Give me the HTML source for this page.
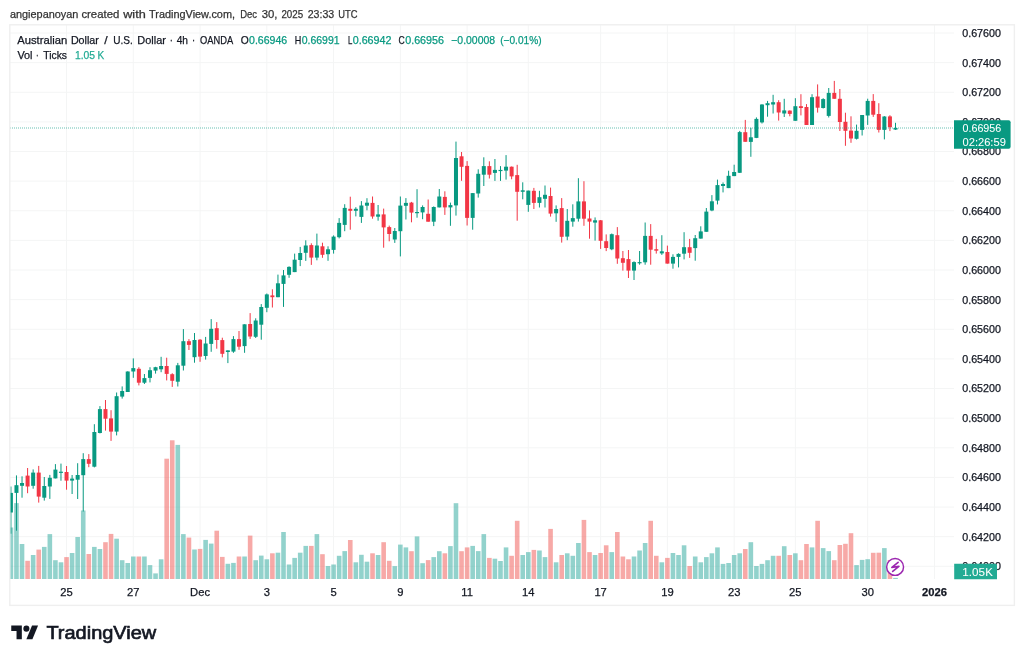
<!DOCTYPE html><html><head><meta charset="utf-8"><title>AUDUSD chart</title><style>
html,body{margin:0;padding:0;background:#fff;width:1024px;height:661px;overflow:hidden}
svg{position:absolute;left:0;top:0}
text{font-family:"Liberation Sans", Arial, sans-serif}
</style></head><body>
<div style="position:absolute;left:0;top:0;width:1024px;height:661px;will-change:transform">
<svg width="1024" height="661" viewBox="0 0 1024 661">
<rect x="0" y="0" width="1024" height="661" fill="#fff"/>
<defs><clipPath id="pane"><rect x="10" y="25" width="944" height="554"/></clipPath></defs>
<g stroke="#f4f5f5" stroke-width="1"><line x1="10" y1="33.00" x2="954" y2="33.00"/><line x1="10" y1="62.63" x2="954" y2="62.63"/><line x1="10" y1="92.26" x2="954" y2="92.26"/><line x1="10" y1="121.88" x2="954" y2="121.88"/><line x1="10" y1="151.51" x2="954" y2="151.51"/><line x1="10" y1="181.14" x2="954" y2="181.14"/><line x1="10" y1="210.77" x2="954" y2="210.77"/><line x1="10" y1="240.40" x2="954" y2="240.40"/><line x1="10" y1="270.02" x2="954" y2="270.02"/><line x1="10" y1="299.65" x2="954" y2="299.65"/><line x1="10" y1="329.28" x2="954" y2="329.28"/><line x1="10" y1="358.91" x2="954" y2="358.91"/><line x1="10" y1="388.54" x2="954" y2="388.54"/><line x1="10" y1="418.16" x2="954" y2="418.16"/><line x1="10" y1="447.79" x2="954" y2="447.79"/><line x1="10" y1="477.42" x2="954" y2="477.42"/><line x1="10" y1="507.05" x2="954" y2="507.05"/><line x1="10" y1="536.68" x2="954" y2="536.68"/><line x1="10" y1="566.30" x2="954" y2="566.30"/><line x1="66.54" y1="25" x2="66.54" y2="579"/><line x1="133.30" y1="25" x2="133.30" y2="579"/><line x1="200.06" y1="25" x2="200.06" y2="579"/><line x1="266.82" y1="25" x2="266.82" y2="579"/><line x1="333.58" y1="25" x2="333.58" y2="579"/><line x1="400.35" y1="25" x2="400.35" y2="579"/><line x1="467.11" y1="25" x2="467.11" y2="579"/><line x1="528.31" y1="25" x2="528.31" y2="579"/><line x1="600.63" y1="25" x2="600.63" y2="579"/><line x1="667.39" y1="25" x2="667.39" y2="579"/><line x1="734.15" y1="25" x2="734.15" y2="579"/><line x1="795.35" y1="25" x2="795.35" y2="579"/><line x1="867.68" y1="25" x2="867.68" y2="579"/><line x1="934.44" y1="25" x2="934.44" y2="579"/></g>
<g clip-path="url(#pane)"><rect x="8.60" y="527.50" width="4.6" height="51.80" fill="rgba(38,166,154,0.5)"/><rect x="14.16" y="503.10" width="4.6" height="76.20" fill="rgba(38,166,154,0.5)"/><rect x="19.73" y="544.00" width="4.6" height="35.30" fill="rgba(38,166,154,0.5)"/><rect x="25.29" y="560.80" width="4.6" height="18.50" fill="rgba(239,83,80,0.5)"/><rect x="30.85" y="555.00" width="4.6" height="24.30" fill="rgba(38,166,154,0.5)"/><rect x="36.42" y="549.60" width="4.6" height="29.70" fill="rgba(239,83,80,0.5)"/><rect x="41.98" y="546.90" width="4.6" height="32.40" fill="rgba(38,166,154,0.5)"/><rect x="47.54" y="534.10" width="4.6" height="45.20" fill="rgba(38,166,154,0.5)"/><rect x="53.11" y="560.20" width="4.6" height="19.10" fill="rgba(38,166,154,0.5)"/><rect x="58.67" y="562.30" width="4.6" height="17.00" fill="rgba(38,166,154,0.5)"/><rect x="64.24" y="557.10" width="4.6" height="22.20" fill="rgba(239,83,80,0.5)"/><rect x="69.80" y="553.00" width="4.6" height="26.30" fill="rgba(38,166,154,0.5)"/><rect x="75.36" y="537.00" width="4.6" height="42.30" fill="rgba(38,166,154,0.5)"/><rect x="80.93" y="510.50" width="4.6" height="68.80" fill="rgba(38,166,154,0.5)"/><rect x="86.49" y="554.00" width="4.6" height="25.30" fill="rgba(239,83,80,0.5)"/><rect x="92.05" y="546.90" width="4.6" height="32.40" fill="rgba(38,166,154,0.5)"/><rect x="97.62" y="549.00" width="4.6" height="30.30" fill="rgba(38,166,154,0.5)"/><rect x="103.18" y="542.20" width="4.6" height="37.10" fill="rgba(239,83,80,0.5)"/><rect x="108.74" y="533.90" width="4.6" height="45.40" fill="rgba(239,83,80,0.5)"/><rect x="114.31" y="538.70" width="4.6" height="40.60" fill="rgba(38,166,154,0.5)"/><rect x="119.87" y="560.20" width="4.6" height="19.10" fill="rgba(38,166,154,0.5)"/><rect x="125.43" y="563.00" width="4.6" height="16.30" fill="rgba(38,166,154,0.5)"/><rect x="131.00" y="556.50" width="4.6" height="22.80" fill="rgba(38,166,154,0.5)"/><rect x="136.56" y="556.50" width="4.6" height="22.80" fill="rgba(239,83,80,0.5)"/><rect x="142.12" y="556.50" width="4.6" height="22.80" fill="rgba(38,166,154,0.5)"/><rect x="147.69" y="565.10" width="4.6" height="14.20" fill="rgba(38,166,154,0.5)"/><rect x="153.25" y="573.40" width="4.6" height="5.90" fill="rgba(38,166,154,0.5)"/><rect x="158.81" y="559.30" width="4.6" height="20.00" fill="rgba(38,166,154,0.5)"/><rect x="164.38" y="458.70" width="4.6" height="120.60" fill="rgba(239,83,80,0.5)"/><rect x="169.94" y="440.30" width="4.6" height="139.00" fill="rgba(239,83,80,0.5)"/><rect x="175.50" y="444.90" width="4.6" height="134.40" fill="rgba(38,166,154,0.5)"/><rect x="181.07" y="534.10" width="4.6" height="45.20" fill="rgba(38,166,154,0.5)"/><rect x="186.63" y="537.60" width="4.6" height="41.70" fill="rgba(239,83,80,0.5)"/><rect x="192.20" y="549.50" width="4.6" height="29.80" fill="rgba(38,166,154,0.5)"/><rect x="197.76" y="548.90" width="4.6" height="30.40" fill="rgba(239,83,80,0.5)"/><rect x="203.32" y="539.90" width="4.6" height="39.40" fill="rgba(38,166,154,0.5)"/><rect x="208.89" y="543.60" width="4.6" height="35.70" fill="rgba(38,166,154,0.5)"/><rect x="214.45" y="530.70" width="4.6" height="48.60" fill="rgba(239,83,80,0.5)"/><rect x="220.01" y="556.90" width="4.6" height="22.40" fill="rgba(239,83,80,0.5)"/><rect x="225.58" y="563.80" width="4.6" height="15.50" fill="rgba(38,166,154,0.5)"/><rect x="231.14" y="562.90" width="4.6" height="16.40" fill="rgba(38,166,154,0.5)"/><rect x="236.70" y="556.50" width="4.6" height="22.80" fill="rgba(239,83,80,0.5)"/><rect x="242.27" y="556.50" width="4.6" height="22.80" fill="rgba(38,166,154,0.5)"/><rect x="247.83" y="535.60" width="4.6" height="43.70" fill="rgba(239,83,80,0.5)"/><rect x="253.39" y="560.20" width="4.6" height="19.10" fill="rgba(38,166,154,0.5)"/><rect x="258.96" y="555.60" width="4.6" height="23.70" fill="rgba(38,166,154,0.5)"/><rect x="264.52" y="559.30" width="4.6" height="20.00" fill="rgba(38,166,154,0.5)"/><rect x="270.08" y="553.30" width="4.6" height="26.00" fill="rgba(239,83,80,0.5)"/><rect x="275.65" y="552.70" width="4.6" height="26.60" fill="rgba(38,166,154,0.5)"/><rect x="281.21" y="532.00" width="4.6" height="47.30" fill="rgba(38,166,154,0.5)"/><rect x="286.77" y="564.50" width="4.6" height="14.80" fill="rgba(38,166,154,0.5)"/><rect x="292.34" y="557.90" width="4.6" height="21.40" fill="rgba(38,166,154,0.5)"/><rect x="297.90" y="552.70" width="4.6" height="26.60" fill="rgba(38,166,154,0.5)"/><rect x="303.47" y="545.90" width="4.6" height="33.40" fill="rgba(38,166,154,0.5)"/><rect x="309.03" y="545.90" width="4.6" height="33.40" fill="rgba(239,83,80,0.5)"/><rect x="314.59" y="534.10" width="4.6" height="45.20" fill="rgba(38,166,154,0.5)"/><rect x="320.16" y="554.20" width="4.6" height="25.10" fill="rgba(239,83,80,0.5)"/><rect x="325.72" y="566.00" width="4.6" height="13.30" fill="rgba(38,166,154,0.5)"/><rect x="331.28" y="564.50" width="4.6" height="14.80" fill="rgba(38,166,154,0.5)"/><rect x="336.85" y="555.80" width="4.6" height="23.50" fill="rgba(38,166,154,0.5)"/><rect x="342.41" y="551.10" width="4.6" height="28.20" fill="rgba(38,166,154,0.5)"/><rect x="347.97" y="540.00" width="4.6" height="39.30" fill="rgba(239,83,80,0.5)"/><rect x="353.54" y="562.30" width="4.6" height="17.00" fill="rgba(38,166,154,0.5)"/><rect x="359.10" y="554.80" width="4.6" height="24.50" fill="rgba(38,166,154,0.5)"/><rect x="364.66" y="561.70" width="4.6" height="17.60" fill="rgba(38,166,154,0.5)"/><rect x="370.23" y="553.30" width="4.6" height="26.00" fill="rgba(239,83,80,0.5)"/><rect x="375.79" y="555.00" width="4.6" height="24.30" fill="rgba(38,166,154,0.5)"/><rect x="381.35" y="542.20" width="4.6" height="37.10" fill="rgba(239,83,80,0.5)"/><rect x="386.92" y="560.80" width="4.6" height="18.50" fill="rgba(239,83,80,0.5)"/><rect x="392.48" y="566.10" width="4.6" height="13.20" fill="rgba(38,166,154,0.5)"/><rect x="398.05" y="544.60" width="4.6" height="34.70" fill="rgba(38,166,154,0.5)"/><rect x="403.61" y="547.40" width="4.6" height="31.90" fill="rgba(38,166,154,0.5)"/><rect x="409.17" y="551.20" width="4.6" height="28.10" fill="rgba(239,83,80,0.5)"/><rect x="414.74" y="536.40" width="4.6" height="42.90" fill="rgba(38,166,154,0.5)"/><rect x="420.30" y="563.20" width="4.6" height="16.10" fill="rgba(38,166,154,0.5)"/><rect x="425.86" y="560.10" width="4.6" height="19.20" fill="rgba(239,83,80,0.5)"/><rect x="431.43" y="557.10" width="4.6" height="22.20" fill="rgba(38,166,154,0.5)"/><rect x="436.99" y="551.20" width="4.6" height="28.10" fill="rgba(38,166,154,0.5)"/><rect x="442.55" y="553.30" width="4.6" height="26.00" fill="rgba(239,83,80,0.5)"/><rect x="448.12" y="546.10" width="4.6" height="33.20" fill="rgba(38,166,154,0.5)"/><rect x="453.68" y="503.20" width="4.6" height="76.10" fill="rgba(38,166,154,0.5)"/><rect x="459.24" y="551.20" width="4.6" height="28.10" fill="rgba(239,83,80,0.5)"/><rect x="464.81" y="547.40" width="4.6" height="31.90" fill="rgba(239,83,80,0.5)"/><rect x="470.37" y="545.90" width="4.6" height="33.40" fill="rgba(38,166,154,0.5)"/><rect x="475.93" y="551.10" width="4.6" height="28.20" fill="rgba(38,166,154,0.5)"/><rect x="481.50" y="534.10" width="4.6" height="45.20" fill="rgba(38,166,154,0.5)"/><rect x="487.06" y="557.90" width="4.6" height="21.40" fill="rgba(239,83,80,0.5)"/><rect x="492.62" y="558.70" width="4.6" height="20.60" fill="rgba(38,166,154,0.5)"/><rect x="498.19" y="561.00" width="4.6" height="18.30" fill="rgba(38,166,154,0.5)"/><rect x="503.75" y="547.40" width="4.6" height="31.90" fill="rgba(38,166,154,0.5)"/><rect x="509.31" y="555.80" width="4.6" height="23.50" fill="rgba(239,83,80,0.5)"/><rect x="514.88" y="520.80" width="4.6" height="58.50" fill="rgba(239,83,80,0.5)"/><rect x="520.44" y="555.00" width="4.6" height="24.30" fill="rgba(38,166,154,0.5)"/><rect x="526.01" y="552.10" width="4.6" height="27.20" fill="rgba(38,166,154,0.5)"/><rect x="531.57" y="549.90" width="4.6" height="29.40" fill="rgba(239,83,80,0.5)"/><rect x="537.13" y="550.50" width="4.6" height="28.80" fill="rgba(38,166,154,0.5)"/><rect x="542.70" y="557.10" width="4.6" height="22.20" fill="rgba(38,166,154,0.5)"/><rect x="548.26" y="528.90" width="4.6" height="50.40" fill="rgba(239,83,80,0.5)"/><rect x="553.82" y="562.30" width="4.6" height="17.00" fill="rgba(38,166,154,0.5)"/><rect x="559.39" y="555.00" width="4.6" height="24.30" fill="rgba(239,83,80,0.5)"/><rect x="564.95" y="553.30" width="4.6" height="26.00" fill="rgba(38,166,154,0.5)"/><rect x="570.51" y="555.80" width="4.6" height="23.50" fill="rgba(38,166,154,0.5)"/><rect x="576.08" y="543.00" width="4.6" height="36.30" fill="rgba(38,166,154,0.5)"/><rect x="581.64" y="519.90" width="4.6" height="59.40" fill="rgba(239,83,80,0.5)"/><rect x="587.20" y="552.10" width="4.6" height="27.20" fill="rgba(239,83,80,0.5)"/><rect x="592.77" y="555.00" width="4.6" height="24.30" fill="rgba(38,166,154,0.5)"/><rect x="598.33" y="553.00" width="4.6" height="26.30" fill="rgba(239,83,80,0.5)"/><rect x="603.89" y="545.30" width="4.6" height="34.00" fill="rgba(239,83,80,0.5)"/><rect x="609.46" y="552.10" width="4.6" height="27.20" fill="rgba(38,166,154,0.5)"/><rect x="615.02" y="532.00" width="4.6" height="47.30" fill="rgba(239,83,80,0.5)"/><rect x="620.59" y="556.50" width="4.6" height="22.80" fill="rgba(239,83,80,0.5)"/><rect x="626.15" y="559.30" width="4.6" height="20.00" fill="rgba(239,83,80,0.5)"/><rect x="631.71" y="556.50" width="4.6" height="22.80" fill="rgba(38,166,154,0.5)"/><rect x="637.28" y="550.50" width="4.6" height="28.80" fill="rgba(38,166,154,0.5)"/><rect x="642.84" y="543.00" width="4.6" height="36.30" fill="rgba(38,166,154,0.5)"/><rect x="648.40" y="520.80" width="4.6" height="58.50" fill="rgba(239,83,80,0.5)"/><rect x="653.97" y="555.80" width="4.6" height="23.50" fill="rgba(239,83,80,0.5)"/><rect x="659.53" y="562.30" width="4.6" height="17.00" fill="rgba(38,166,154,0.5)"/><rect x="665.09" y="557.90" width="4.6" height="21.40" fill="rgba(239,83,80,0.5)"/><rect x="670.66" y="553.00" width="4.6" height="26.30" fill="rgba(38,166,154,0.5)"/><rect x="676.22" y="555.00" width="4.6" height="24.30" fill="rgba(38,166,154,0.5)"/><rect x="681.78" y="545.30" width="4.6" height="34.00" fill="rgba(38,166,154,0.5)"/><rect x="687.35" y="566.00" width="4.6" height="13.30" fill="rgba(239,83,80,0.5)"/><rect x="692.91" y="556.50" width="4.6" height="22.80" fill="rgba(38,166,154,0.5)"/><rect x="698.47" y="562.30" width="4.6" height="17.00" fill="rgba(38,166,154,0.5)"/><rect x="704.04" y="557.10" width="4.6" height="22.20" fill="rgba(38,166,154,0.5)"/><rect x="709.60" y="553.30" width="4.6" height="26.00" fill="rgba(38,166,154,0.5)"/><rect x="715.16" y="547.40" width="4.6" height="31.90" fill="rgba(38,166,154,0.5)"/><rect x="720.73" y="563.90" width="4.6" height="15.40" fill="rgba(38,166,154,0.5)"/><rect x="726.29" y="563.00" width="4.6" height="16.30" fill="rgba(38,166,154,0.5)"/><rect x="731.86" y="555.00" width="4.6" height="24.30" fill="rgba(38,166,154,0.5)"/><rect x="737.42" y="553.30" width="4.6" height="26.00" fill="rgba(38,166,154,0.5)"/><rect x="742.98" y="549.00" width="4.6" height="30.30" fill="rgba(239,83,80,0.5)"/><rect x="748.55" y="542.20" width="4.6" height="37.10" fill="rgba(38,166,154,0.5)"/><rect x="754.11" y="566.00" width="4.6" height="13.30" fill="rgba(38,166,154,0.5)"/><rect x="759.67" y="563.90" width="4.6" height="15.40" fill="rgba(38,166,154,0.5)"/><rect x="765.24" y="560.20" width="4.6" height="19.10" fill="rgba(38,166,154,0.5)"/><rect x="770.80" y="555.80" width="4.6" height="23.50" fill="rgba(38,166,154,0.5)"/><rect x="776.36" y="555.80" width="4.6" height="23.50" fill="rgba(239,83,80,0.5)"/><rect x="781.93" y="546.20" width="4.6" height="33.10" fill="rgba(38,166,154,0.5)"/><rect x="787.49" y="555.00" width="4.6" height="24.30" fill="rgba(239,83,80,0.5)"/><rect x="793.05" y="553.30" width="4.6" height="26.00" fill="rgba(38,166,154,0.5)"/><rect x="798.62" y="560.20" width="4.6" height="19.10" fill="rgba(239,83,80,0.5)"/><rect x="804.18" y="544.00" width="4.6" height="35.30" fill="rgba(239,83,80,0.5)"/><rect x="809.74" y="547.40" width="4.6" height="31.90" fill="rgba(38,166,154,0.5)"/><rect x="815.31" y="520.80" width="4.6" height="58.50" fill="rgba(239,83,80,0.5)"/><rect x="820.87" y="548.10" width="4.6" height="31.20" fill="rgba(38,166,154,0.5)"/><rect x="826.43" y="551.10" width="4.6" height="28.20" fill="rgba(38,166,154,0.5)"/><rect x="832.00" y="560.20" width="4.6" height="19.10" fill="rgba(239,83,80,0.5)"/><rect x="837.56" y="545.00" width="4.6" height="34.30" fill="rgba(239,83,80,0.5)"/><rect x="843.13" y="543.80" width="4.6" height="35.50" fill="rgba(239,83,80,0.5)"/><rect x="848.69" y="533.20" width="4.6" height="46.10" fill="rgba(239,83,80,0.5)"/><rect x="854.25" y="565.10" width="4.6" height="14.20" fill="rgba(38,166,154,0.5)"/><rect x="859.82" y="559.90" width="4.6" height="19.40" fill="rgba(38,166,154,0.5)"/><rect x="865.38" y="559.20" width="4.6" height="20.10" fill="rgba(38,166,154,0.5)"/><rect x="870.94" y="552.80" width="4.6" height="26.50" fill="rgba(239,83,80,0.5)"/><rect x="876.51" y="552.70" width="4.6" height="26.60" fill="rgba(239,83,80,0.5)"/><rect x="882.07" y="548.10" width="4.6" height="31.20" fill="rgba(38,166,154,0.5)"/><rect x="887.63" y="560.00" width="4.6" height="19.30" fill="rgba(239,83,80,0.5)"/><rect x="893.20" y="577.90" width="4.6" height="1.40" fill="rgba(38,166,154,0.5)"/></g>
<g clip-path="url(#pane)"><rect x="10.40" y="486.50" width="1" height="47.20" fill="#089981"/><rect x="8.90" y="492.90" width="4" height="19.60" fill="#089981"/><rect x="15.96" y="475.40" width="1" height="55.30" fill="#089981"/><rect x="14.46" y="485.20" width="4" height="7.70" fill="#089981"/><rect x="21.53" y="476.30" width="1" height="21.40" fill="#089981"/><rect x="20.03" y="483.00" width="4" height="2.80" fill="#089981"/><rect x="27.09" y="468.00" width="1" height="25.20" fill="#f23645"/><rect x="25.59" y="475.60" width="4" height="10.90" fill="#f23645"/><rect x="32.65" y="469.40" width="1" height="19.30" fill="#089981"/><rect x="31.15" y="472.60" width="4" height="13.20" fill="#089981"/><rect x="38.22" y="465.90" width="1" height="36.70" fill="#f23645"/><rect x="36.72" y="472.60" width="4" height="24.00" fill="#f23645"/><rect x="43.78" y="477.00" width="1" height="23.60" fill="#089981"/><rect x="42.28" y="486.00" width="4" height="11.70" fill="#089981"/><rect x="49.34" y="474.90" width="1" height="24.00" fill="#089981"/><rect x="47.84" y="477.80" width="4" height="8.70" fill="#089981"/><rect x="54.91" y="464.10" width="1" height="14.30" fill="#089981"/><rect x="53.41" y="469.60" width="4" height="8.80" fill="#089981"/><rect x="60.47" y="463.60" width="1" height="17.10" fill="#089981"/><rect x="58.97" y="471.70" width="4" height="1.20" fill="#089981"/><rect x="66.04" y="466.00" width="1" height="23.70" fill="#f23645"/><rect x="64.54" y="472.00" width="4" height="8.60" fill="#f23645"/><rect x="71.60" y="475.00" width="1" height="19.00" fill="#089981"/><rect x="70.10" y="478.60" width="4" height="2.00" fill="#089981"/><rect x="77.16" y="463.20" width="1" height="35.80" fill="#089981"/><rect x="75.66" y="475.00" width="4" height="4.70" fill="#089981"/><rect x="82.73" y="453.20" width="1" height="58.30" fill="#089981"/><rect x="81.23" y="459.10" width="4" height="16.10" fill="#089981"/><rect x="88.29" y="454.10" width="1" height="13.10" fill="#f23645"/><rect x="86.79" y="459.10" width="4" height="4.70" fill="#f23645"/><rect x="93.85" y="424.20" width="1" height="43.20" fill="#089981"/><rect x="92.35" y="432.00" width="4" height="34.70" fill="#089981"/><rect x="99.42" y="406.10" width="1" height="27.30" fill="#089981"/><rect x="97.92" y="409.10" width="4" height="23.90" fill="#089981"/><rect x="104.98" y="400.00" width="1" height="30.60" fill="#f23645"/><rect x="103.48" y="409.10" width="4" height="9.60" fill="#f23645"/><rect x="110.54" y="410.20" width="1" height="30.70" fill="#f23645"/><rect x="109.04" y="418.40" width="4" height="13.20" fill="#f23645"/><rect x="116.11" y="392.50" width="1" height="42.90" fill="#089981"/><rect x="114.61" y="396.20" width="4" height="35.40" fill="#089981"/><rect x="121.67" y="386.40" width="1" height="12.20" fill="#089981"/><rect x="120.17" y="391.00" width="4" height="5.60" fill="#089981"/><rect x="127.23" y="371.30" width="1" height="20.70" fill="#089981"/><rect x="125.73" y="371.50" width="4" height="20.50" fill="#089981"/><rect x="132.80" y="358.40" width="1" height="19.40" fill="#089981"/><rect x="131.30" y="368.10" width="4" height="3.40" fill="#089981"/><rect x="138.36" y="367.20" width="1" height="18.20" fill="#f23645"/><rect x="136.86" y="368.80" width="4" height="13.90" fill="#f23645"/><rect x="143.92" y="374.00" width="1" height="10.00" fill="#089981"/><rect x="142.42" y="378.10" width="4" height="4.60" fill="#089981"/><rect x="149.49" y="367.20" width="1" height="15.20" fill="#089981"/><rect x="147.99" y="370.20" width="4" height="7.70" fill="#089981"/><rect x="155.05" y="366.80" width="1" height="6.80" fill="#089981"/><rect x="153.55" y="367.20" width="4" height="3.40" fill="#089981"/><rect x="160.61" y="356.80" width="1" height="15.40" fill="#089981"/><rect x="159.11" y="366.00" width="4" height="3.30" fill="#089981"/><rect x="166.18" y="357.70" width="1" height="22.70" fill="#f23645"/><rect x="164.68" y="366.00" width="4" height="7.90" fill="#f23645"/><rect x="171.74" y="373.20" width="1" height="13.70" fill="#f23645"/><rect x="170.24" y="374.20" width="4" height="6.60" fill="#f23645"/><rect x="177.31" y="362.90" width="1" height="23.60" fill="#089981"/><rect x="175.81" y="365.30" width="4" height="16.40" fill="#089981"/><rect x="182.87" y="329.10" width="1" height="41.40" fill="#089981"/><rect x="181.37" y="341.20" width="4" height="24.50" fill="#089981"/><rect x="188.43" y="339.10" width="1" height="10.90" fill="#f23645"/><rect x="186.93" y="341.20" width="4" height="3.70" fill="#f23645"/><rect x="194.00" y="333.00" width="1" height="29.70" fill="#089981"/><rect x="192.50" y="340.00" width="4" height="17.20" fill="#089981"/><rect x="199.56" y="339.10" width="1" height="22.70" fill="#f23645"/><rect x="198.06" y="339.70" width="4" height="16.90" fill="#f23645"/><rect x="205.12" y="336.90" width="1" height="22.70" fill="#089981"/><rect x="203.62" y="343.50" width="4" height="12.50" fill="#089981"/><rect x="210.69" y="319.10" width="1" height="32.70" fill="#089981"/><rect x="209.19" y="328.80" width="4" height="15.10" fill="#089981"/><rect x="216.25" y="322.10" width="1" height="26.60" fill="#f23645"/><rect x="214.75" y="328.20" width="4" height="11.80" fill="#f23645"/><rect x="221.81" y="337.70" width="1" height="19.70" fill="#f23645"/><rect x="220.31" y="340.10" width="4" height="13.70" fill="#f23645"/><rect x="227.38" y="350.40" width="1" height="12.70" fill="#089981"/><rect x="225.88" y="350.40" width="4" height="1.60" fill="#089981"/><rect x="232.94" y="336.10" width="1" height="16.70" fill="#089981"/><rect x="231.44" y="339.10" width="4" height="12.50" fill="#089981"/><rect x="238.50" y="331.00" width="1" height="18.80" fill="#f23645"/><rect x="237.00" y="339.10" width="4" height="7.60" fill="#f23645"/><rect x="244.07" y="324.30" width="1" height="28.50" fill="#089981"/><rect x="242.57" y="324.30" width="4" height="21.80" fill="#089981"/><rect x="249.63" y="313.10" width="1" height="25.80" fill="#f23645"/><rect x="248.13" y="324.00" width="4" height="12.50" fill="#f23645"/><rect x="255.19" y="318.30" width="1" height="19.70" fill="#089981"/><rect x="253.69" y="320.50" width="4" height="16.30" fill="#089981"/><rect x="260.76" y="304.10" width="1" height="35.60" fill="#089981"/><rect x="259.26" y="307.00" width="4" height="17.70" fill="#089981"/><rect x="266.32" y="293.50" width="1" height="18.70" fill="#089981"/><rect x="264.82" y="294.40" width="4" height="13.40" fill="#089981"/><rect x="271.88" y="289.30" width="1" height="18.20" fill="#f23645"/><rect x="270.38" y="295.40" width="4" height="1.80" fill="#f23645"/><rect x="277.45" y="274.60" width="1" height="22.60" fill="#089981"/><rect x="275.95" y="283.30" width="4" height="13.90" fill="#089981"/><rect x="283.01" y="270.00" width="1" height="36.90" fill="#089981"/><rect x="281.51" y="275.40" width="4" height="8.50" fill="#089981"/><rect x="288.57" y="266.30" width="1" height="11.50" fill="#089981"/><rect x="287.07" y="266.90" width="4" height="7.90" fill="#089981"/><rect x="294.14" y="253.60" width="1" height="18.50" fill="#089981"/><rect x="292.64" y="259.70" width="4" height="12.40" fill="#089981"/><rect x="299.70" y="246.90" width="1" height="19.20" fill="#089981"/><rect x="298.20" y="253.00" width="4" height="7.00" fill="#089981"/><rect x="305.27" y="240.30" width="1" height="20.60" fill="#089981"/><rect x="303.77" y="245.50" width="4" height="7.30" fill="#089981"/><rect x="310.83" y="243.30" width="1" height="21.60" fill="#f23645"/><rect x="309.33" y="245.10" width="4" height="12.50" fill="#f23645"/><rect x="316.39" y="233.60" width="1" height="26.70" fill="#089981"/><rect x="314.89" y="245.50" width="4" height="12.10" fill="#089981"/><rect x="321.96" y="242.70" width="1" height="15.10" fill="#f23645"/><rect x="320.46" y="246.30" width="4" height="8.50" fill="#f23645"/><rect x="327.52" y="246.30" width="1" height="14.50" fill="#089981"/><rect x="326.02" y="249.30" width="4" height="4.90" fill="#089981"/><rect x="333.08" y="235.40" width="1" height="18.20" fill="#089981"/><rect x="331.58" y="236.60" width="4" height="13.30" fill="#089981"/><rect x="338.65" y="218.10" width="1" height="20.30" fill="#089981"/><rect x="337.15" y="222.90" width="4" height="14.30" fill="#089981"/><rect x="344.21" y="204.20" width="1" height="27.00" fill="#089981"/><rect x="342.71" y="207.90" width="4" height="17.00" fill="#089981"/><rect x="349.77" y="196.70" width="1" height="33.00" fill="#f23645"/><rect x="348.27" y="208.80" width="4" height="2.00" fill="#f23645"/><rect x="355.34" y="207.20" width="1" height="9.20" fill="#089981"/><rect x="353.84" y="208.80" width="4" height="2.00" fill="#089981"/><rect x="360.90" y="201.10" width="1" height="21.80" fill="#089981"/><rect x="359.40" y="205.50" width="4" height="11.40" fill="#089981"/><rect x="366.46" y="198.20" width="1" height="12.10" fill="#089981"/><rect x="364.96" y="202.70" width="4" height="3.00" fill="#089981"/><rect x="372.03" y="196.50" width="1" height="22.20" fill="#f23645"/><rect x="370.53" y="202.90" width="4" height="13.60" fill="#f23645"/><rect x="377.59" y="205.00" width="1" height="15.70" fill="#089981"/><rect x="376.09" y="214.40" width="4" height="2.30" fill="#089981"/><rect x="383.15" y="208.60" width="1" height="39.10" fill="#f23645"/><rect x="381.65" y="214.40" width="4" height="13.00" fill="#f23645"/><rect x="388.72" y="225.60" width="1" height="15.70" fill="#f23645"/><rect x="387.22" y="227.10" width="4" height="6.90" fill="#f23645"/><rect x="394.28" y="228.00" width="1" height="14.90" fill="#089981"/><rect x="392.78" y="231.00" width="4" height="8.50" fill="#089981"/><rect x="399.85" y="196.50" width="1" height="59.90" fill="#089981"/><rect x="398.35" y="205.60" width="4" height="25.60" fill="#089981"/><rect x="405.41" y="198.10" width="1" height="21.40" fill="#089981"/><rect x="403.91" y="202.90" width="4" height="2.90" fill="#089981"/><rect x="410.97" y="201.90" width="1" height="20.40" fill="#f23645"/><rect x="409.47" y="202.60" width="4" height="10.00" fill="#f23645"/><rect x="416.54" y="189.20" width="1" height="28.50" fill="#089981"/><rect x="415.04" y="212.00" width="4" height="1.20" fill="#089981"/><rect x="422.10" y="205.40" width="1" height="13.80" fill="#089981"/><rect x="420.60" y="207.00" width="4" height="5.40" fill="#089981"/><rect x="427.66" y="199.50" width="1" height="22.20" fill="#f23645"/><rect x="426.16" y="213.80" width="4" height="7.90" fill="#f23645"/><rect x="433.23" y="206.40" width="1" height="19.70" fill="#089981"/><rect x="431.73" y="207.00" width="4" height="14.70" fill="#089981"/><rect x="438.79" y="189.00" width="1" height="18.40" fill="#089981"/><rect x="437.29" y="196.50" width="4" height="10.90" fill="#089981"/><rect x="444.35" y="191.30" width="1" height="23.60" fill="#f23645"/><rect x="442.85" y="196.90" width="4" height="10.50" fill="#f23645"/><rect x="449.92" y="202.60" width="1" height="23.20" fill="#089981"/><rect x="448.42" y="205.10" width="4" height="2.30" fill="#089981"/><rect x="455.48" y="141.60" width="1" height="74.00" fill="#089981"/><rect x="453.98" y="158.00" width="4" height="47.40" fill="#089981"/><rect x="461.04" y="152.00" width="1" height="28.80" fill="#f23645"/><rect x="459.54" y="156.30" width="4" height="10.50" fill="#f23645"/><rect x="466.61" y="161.10" width="1" height="64.40" fill="#f23645"/><rect x="465.11" y="165.90" width="4" height="52.00" fill="#f23645"/><rect x="472.17" y="193.10" width="1" height="36.60" fill="#089981"/><rect x="470.67" y="193.10" width="4" height="24.80" fill="#089981"/><rect x="477.73" y="169.30" width="1" height="28.30" fill="#089981"/><rect x="476.23" y="173.80" width="4" height="19.70" fill="#089981"/><rect x="483.30" y="157.30" width="1" height="28.70" fill="#089981"/><rect x="481.80" y="166.10" width="4" height="8.60" fill="#089981"/><rect x="488.86" y="161.30" width="1" height="17.20" fill="#f23645"/><rect x="487.36" y="166.10" width="4" height="8.60" fill="#f23645"/><rect x="494.42" y="159.00" width="1" height="21.90" fill="#089981"/><rect x="492.92" y="169.90" width="4" height="3.00" fill="#089981"/><rect x="499.99" y="166.10" width="1" height="14.80" fill="#089981"/><rect x="498.49" y="169.90" width="4" height="1.20" fill="#089981"/><rect x="505.55" y="155.10" width="1" height="24.50" fill="#089981"/><rect x="504.05" y="166.70" width="4" height="3.90" fill="#089981"/><rect x="511.12" y="166.50" width="1" height="12.80" fill="#f23645"/><rect x="509.62" y="166.70" width="4" height="9.70" fill="#f23645"/><rect x="516.68" y="164.80" width="1" height="55.90" fill="#f23645"/><rect x="515.18" y="175.10" width="4" height="16.70" fill="#f23645"/><rect x="522.24" y="182.30" width="1" height="17.00" fill="#089981"/><rect x="520.74" y="190.30" width="4" height="1.50" fill="#089981"/><rect x="527.81" y="190.60" width="1" height="21.20" fill="#089981"/><rect x="526.31" y="190.60" width="4" height="14.30" fill="#089981"/><rect x="533.37" y="187.90" width="1" height="21.10" fill="#f23645"/><rect x="531.87" y="190.80" width="4" height="12.10" fill="#f23645"/><rect x="538.93" y="190.80" width="1" height="16.70" fill="#089981"/><rect x="537.43" y="197.20" width="4" height="5.70" fill="#089981"/><rect x="544.50" y="185.50" width="1" height="22.00" fill="#089981"/><rect x="543.00" y="194.80" width="4" height="4.00" fill="#089981"/><rect x="550.06" y="187.60" width="1" height="29.00" fill="#f23645"/><rect x="548.56" y="196.00" width="4" height="17.60" fill="#f23645"/><rect x="555.62" y="205.40" width="1" height="16.40" fill="#089981"/><rect x="554.12" y="209.00" width="4" height="4.30" fill="#089981"/><rect x="561.19" y="198.10" width="1" height="44.50" fill="#f23645"/><rect x="559.69" y="208.10" width="4" height="28.70" fill="#f23645"/><rect x="566.75" y="209.00" width="1" height="31.20" fill="#089981"/><rect x="565.25" y="220.80" width="4" height="15.80" fill="#089981"/><rect x="572.31" y="204.30" width="1" height="22.40" fill="#089981"/><rect x="570.81" y="218.10" width="4" height="3.50" fill="#089981"/><rect x="577.88" y="178.20" width="1" height="43.40" fill="#089981"/><rect x="576.38" y="201.40" width="4" height="17.30" fill="#089981"/><rect x="583.44" y="181.20" width="1" height="44.60" fill="#f23645"/><rect x="581.94" y="201.40" width="4" height="17.30" fill="#f23645"/><rect x="589.00" y="210.40" width="1" height="28.30" fill="#f23645"/><rect x="587.50" y="218.50" width="4" height="3.10" fill="#f23645"/><rect x="594.57" y="217.40" width="1" height="23.20" fill="#089981"/><rect x="593.07" y="220.30" width="4" height="2.30" fill="#089981"/><rect x="600.13" y="220.00" width="1" height="28.90" fill="#f23645"/><rect x="598.63" y="220.30" width="4" height="20.50" fill="#f23645"/><rect x="605.69" y="234.40" width="1" height="16.70" fill="#f23645"/><rect x="604.19" y="241.20" width="4" height="6.80" fill="#f23645"/><rect x="611.26" y="233.50" width="1" height="16.70" fill="#089981"/><rect x="609.76" y="234.20" width="4" height="15.10" fill="#089981"/><rect x="616.82" y="227.10" width="1" height="36.70" fill="#f23645"/><rect x="615.32" y="235.20" width="4" height="23.30" fill="#f23645"/><rect x="622.38" y="251.00" width="1" height="19.60" fill="#f23645"/><rect x="620.88" y="258.20" width="4" height="4.60" fill="#f23645"/><rect x="627.95" y="250.00" width="1" height="28.00" fill="#f23645"/><rect x="626.45" y="259.10" width="4" height="11.50" fill="#f23645"/><rect x="633.51" y="261.30" width="1" height="18.70" fill="#089981"/><rect x="632.01" y="262.10" width="4" height="8.50" fill="#089981"/><rect x="639.08" y="251.00" width="1" height="13.70" fill="#089981"/><rect x="637.58" y="262.10" width="4" height="1.20" fill="#089981"/><rect x="644.64" y="222.50" width="1" height="42.20" fill="#089981"/><rect x="643.14" y="235.90" width="4" height="26.40" fill="#089981"/><rect x="650.20" y="224.10" width="1" height="40.60" fill="#f23645"/><rect x="648.70" y="235.90" width="4" height="13.80" fill="#f23645"/><rect x="655.77" y="238.90" width="1" height="14.70" fill="#f23645"/><rect x="654.27" y="249.20" width="4" height="1.50" fill="#f23645"/><rect x="661.33" y="235.20" width="1" height="19.70" fill="#089981"/><rect x="659.83" y="251.30" width="4" height="2.10" fill="#089981"/><rect x="666.89" y="245.60" width="1" height="18.00" fill="#f23645"/><rect x="665.39" y="252.00" width="4" height="11.60" fill="#f23645"/><rect x="672.46" y="254.30" width="1" height="14.40" fill="#089981"/><rect x="670.96" y="256.90" width="4" height="6.70" fill="#089981"/><rect x="678.02" y="253.30" width="1" height="14.10" fill="#089981"/><rect x="676.52" y="253.90" width="4" height="3.00" fill="#089981"/><rect x="683.58" y="232.20" width="1" height="27.20" fill="#089981"/><rect x="682.08" y="247.20" width="4" height="6.50" fill="#089981"/><rect x="689.15" y="238.90" width="1" height="19.00" fill="#f23645"/><rect x="687.65" y="247.20" width="4" height="5.60" fill="#f23645"/><rect x="694.71" y="235.00" width="1" height="25.70" fill="#089981"/><rect x="693.21" y="238.20" width="4" height="9.90" fill="#089981"/><rect x="700.27" y="226.30" width="1" height="12.30" fill="#089981"/><rect x="698.77" y="231.40" width="4" height="7.20" fill="#089981"/><rect x="705.84" y="208.00" width="1" height="23.80" fill="#089981"/><rect x="704.34" y="211.60" width="4" height="20.20" fill="#089981"/><rect x="711.40" y="195.10" width="1" height="16.10" fill="#089981"/><rect x="709.90" y="201.30" width="4" height="9.20" fill="#089981"/><rect x="716.96" y="179.60" width="1" height="24.80" fill="#089981"/><rect x="715.46" y="185.10" width="4" height="15.50" fill="#089981"/><rect x="722.53" y="182.40" width="1" height="10.00" fill="#089981"/><rect x="721.03" y="184.00" width="4" height="2.00" fill="#089981"/><rect x="728.09" y="170.70" width="1" height="17.40" fill="#089981"/><rect x="726.59" y="175.80" width="4" height="12.30" fill="#089981"/><rect x="733.65" y="164.70" width="1" height="11.40" fill="#089981"/><rect x="732.15" y="172.00" width="4" height="4.10" fill="#089981"/><rect x="739.22" y="130.90" width="1" height="42.10" fill="#089981"/><rect x="737.72" y="132.10" width="4" height="40.70" fill="#089981"/><rect x="744.78" y="119.90" width="1" height="21.90" fill="#f23645"/><rect x="743.28" y="132.20" width="4" height="9.60" fill="#f23645"/><rect x="750.35" y="127.80" width="1" height="29.00" fill="#089981"/><rect x="748.85" y="137.30" width="4" height="4.60" fill="#089981"/><rect x="755.91" y="117.40" width="1" height="20.70" fill="#089981"/><rect x="754.41" y="118.90" width="4" height="19.00" fill="#089981"/><rect x="761.47" y="104.20" width="1" height="19.30" fill="#089981"/><rect x="759.97" y="104.50" width="4" height="17.90" fill="#089981"/><rect x="767.04" y="100.90" width="1" height="15.80" fill="#089981"/><rect x="765.54" y="103.20" width="4" height="2.00" fill="#089981"/><rect x="772.60" y="94.80" width="1" height="18.70" fill="#089981"/><rect x="771.10" y="102.20" width="4" height="2.30" fill="#089981"/><rect x="778.16" y="100.20" width="1" height="20.40" fill="#f23645"/><rect x="776.66" y="102.20" width="4" height="10.30" fill="#f23645"/><rect x="783.73" y="98.80" width="1" height="18.20" fill="#089981"/><rect x="782.23" y="110.40" width="4" height="3.10" fill="#089981"/><rect x="789.29" y="110.40" width="1" height="5.90" fill="#f23645"/><rect x="787.79" y="110.60" width="4" height="3.30" fill="#f23645"/><rect x="794.85" y="98.20" width="1" height="22.60" fill="#089981"/><rect x="793.35" y="106.20" width="4" height="14.60" fill="#089981"/><rect x="800.42" y="94.20" width="1" height="21.20" fill="#f23645"/><rect x="798.92" y="106.20" width="4" height="1.80" fill="#f23645"/><rect x="805.98" y="104.10" width="1" height="20.90" fill="#f23645"/><rect x="804.48" y="107.00" width="4" height="18.00" fill="#f23645"/><rect x="811.54" y="94.20" width="1" height="30.80" fill="#089981"/><rect x="810.04" y="97.20" width="4" height="27.80" fill="#089981"/><rect x="817.11" y="84.40" width="1" height="28.20" fill="#f23645"/><rect x="815.61" y="96.50" width="4" height="11.20" fill="#f23645"/><rect x="822.67" y="98.20" width="1" height="10.30" fill="#089981"/><rect x="821.17" y="99.10" width="4" height="8.90" fill="#089981"/><rect x="828.23" y="88.00" width="1" height="29.50" fill="#089981"/><rect x="826.73" y="92.90" width="4" height="23.00" fill="#089981"/><rect x="833.80" y="80.90" width="1" height="17.90" fill="#f23645"/><rect x="832.30" y="92.90" width="4" height="5.90" fill="#f23645"/><rect x="839.36" y="89.00" width="1" height="42.00" fill="#f23645"/><rect x="837.86" y="98.80" width="4" height="23.20" fill="#f23645"/><rect x="844.93" y="112.70" width="1" height="33.10" fill="#f23645"/><rect x="843.43" y="121.80" width="4" height="9.00" fill="#f23645"/><rect x="850.49" y="116.30" width="1" height="26.50" fill="#f23645"/><rect x="848.99" y="130.60" width="4" height="7.90" fill="#f23645"/><rect x="856.05" y="124.60" width="1" height="14.90" fill="#089981"/><rect x="854.55" y="130.80" width="4" height="8.00" fill="#089981"/><rect x="861.62" y="115.00" width="1" height="20.50" fill="#089981"/><rect x="860.12" y="115.00" width="4" height="14.90" fill="#089981"/><rect x="867.18" y="98.70" width="1" height="26.20" fill="#089981"/><rect x="865.68" y="100.90" width="4" height="14.60" fill="#089981"/><rect x="872.74" y="94.10" width="1" height="22.80" fill="#f23645"/><rect x="871.24" y="100.90" width="4" height="13.80" fill="#f23645"/><rect x="878.31" y="103.20" width="1" height="29.30" fill="#f23645"/><rect x="876.81" y="114.00" width="4" height="15.90" fill="#f23645"/><rect x="883.87" y="116.10" width="1" height="23.30" fill="#089981"/><rect x="882.37" y="116.50" width="4" height="13.40" fill="#089981"/><rect x="889.43" y="115.20" width="1" height="15.90" fill="#f23645"/><rect x="887.93" y="116.40" width="4" height="10.80" fill="#f23645"/><rect x="895.00" y="122.80" width="1" height="7.10" fill="#089981"/><rect x="893.50" y="128.00" width="4" height="1.60" fill="#089981"/></g>
<line x1="10" y1="128" x2="954" y2="128" stroke="rgba(8,153,129,0.3)" stroke-width="2" stroke-dasharray="1 1"/>
<rect x="9.8" y="24.8" width="1004.6" height="580.6" fill="none" stroke="#efefef" stroke-width="1.4"/>
<g font-size="11.2" fill="#131722" stroke="#131722" stroke-width="0.25"><text x="66.54" y="596" text-anchor="middle">25</text><text x="133.30" y="596" text-anchor="middle">27</text><text x="200.06" y="596" text-anchor="middle">Dec</text><text x="266.82" y="596" text-anchor="middle">3</text><text x="333.58" y="596" text-anchor="middle">5</text><text x="400.35" y="596" text-anchor="middle">9</text><text x="467.11" y="596" text-anchor="middle">11</text><text x="528.31" y="596" text-anchor="middle">14</text><text x="600.63" y="596" text-anchor="middle">17</text><text x="667.39" y="596" text-anchor="middle">19</text><text x="734.15" y="596" text-anchor="middle">23</text><text x="795.35" y="596" text-anchor="middle">25</text><text x="867.68" y="596" text-anchor="middle">30</text><text x="934.44" y="596" text-anchor="middle" font-weight="bold">2026</text></g>
<text x="962.20" y="36.90" font-size="10.65" font-weight="normal" fill="#131722" stroke="#131722" stroke-width="0.25" textLength="38.77" lengthAdjust="spacingAndGlyphs">0.67600</text><text x="962.20" y="66.53" font-size="10.65" font-weight="normal" fill="#131722" stroke="#131722" stroke-width="0.25" textLength="38.77" lengthAdjust="spacingAndGlyphs">0.67400</text><text x="962.20" y="96.16" font-size="10.65" font-weight="normal" fill="#131722" stroke="#131722" stroke-width="0.25" textLength="38.77" lengthAdjust="spacingAndGlyphs">0.67200</text><text x="962.20" y="125.78" font-size="10.65" font-weight="normal" fill="#131722" stroke="#131722" stroke-width="0.25" textLength="38.77" lengthAdjust="spacingAndGlyphs">0.67000</text><text x="962.20" y="155.41" font-size="10.65" font-weight="normal" fill="#131722" stroke="#131722" stroke-width="0.25" textLength="38.77" lengthAdjust="spacingAndGlyphs">0.66800</text><text x="962.20" y="185.04" font-size="10.65" font-weight="normal" fill="#131722" stroke="#131722" stroke-width="0.25" textLength="38.77" lengthAdjust="spacingAndGlyphs">0.66600</text><text x="962.20" y="214.67" font-size="10.65" font-weight="normal" fill="#131722" stroke="#131722" stroke-width="0.25" textLength="38.77" lengthAdjust="spacingAndGlyphs">0.66400</text><text x="962.20" y="244.30" font-size="10.65" font-weight="normal" fill="#131722" stroke="#131722" stroke-width="0.25" textLength="38.77" lengthAdjust="spacingAndGlyphs">0.66200</text><text x="962.20" y="273.92" font-size="10.65" font-weight="normal" fill="#131722" stroke="#131722" stroke-width="0.25" textLength="38.77" lengthAdjust="spacingAndGlyphs">0.66000</text><text x="962.20" y="303.55" font-size="10.65" font-weight="normal" fill="#131722" stroke="#131722" stroke-width="0.25" textLength="38.77" lengthAdjust="spacingAndGlyphs">0.65800</text><text x="962.20" y="333.18" font-size="10.65" font-weight="normal" fill="#131722" stroke="#131722" stroke-width="0.25" textLength="38.77" lengthAdjust="spacingAndGlyphs">0.65600</text><text x="962.20" y="362.81" font-size="10.65" font-weight="normal" fill="#131722" stroke="#131722" stroke-width="0.25" textLength="38.77" lengthAdjust="spacingAndGlyphs">0.65400</text><text x="962.20" y="392.44" font-size="10.65" font-weight="normal" fill="#131722" stroke="#131722" stroke-width="0.25" textLength="38.77" lengthAdjust="spacingAndGlyphs">0.65200</text><text x="962.20" y="422.06" font-size="10.65" font-weight="normal" fill="#131722" stroke="#131722" stroke-width="0.25" textLength="38.77" lengthAdjust="spacingAndGlyphs">0.65000</text><text x="962.20" y="451.69" font-size="10.65" font-weight="normal" fill="#131722" stroke="#131722" stroke-width="0.25" textLength="38.77" lengthAdjust="spacingAndGlyphs">0.64800</text><text x="962.20" y="481.32" font-size="10.65" font-weight="normal" fill="#131722" stroke="#131722" stroke-width="0.25" textLength="38.77" lengthAdjust="spacingAndGlyphs">0.64600</text><text x="962.20" y="510.95" font-size="10.65" font-weight="normal" fill="#131722" stroke="#131722" stroke-width="0.25" textLength="38.77" lengthAdjust="spacingAndGlyphs">0.64400</text><text x="962.20" y="540.58" font-size="10.65" font-weight="normal" fill="#131722" stroke="#131722" stroke-width="0.25" textLength="38.77" lengthAdjust="spacingAndGlyphs">0.64200</text><text x="962.20" y="570.20" font-size="10.65" font-weight="normal" fill="#131722" stroke="#131722" stroke-width="0.25" textLength="38.77" lengthAdjust="spacingAndGlyphs">0.64000</text>
<path d="M954 120.2 H1008.6 a2 2 0 0 1 2 2 V146.7 a2 2 0 0 1 -2 2 H954 Z" fill="#089981"/>
<path d="M954.2 563.7 H995 a2 2 0 0 1 2 2 V579.3 H954.2 Z" fill="#22ab94"/>
<circle cx="895.1" cy="566.9" r="8.45" fill="#fff" stroke="#9c27b0" stroke-width="1.45"/>
<path d="M898.1 562.4 L891.9 567.4 L898.9 566.3 L892.7 571.4" fill="none" stroke="#9c27b0" stroke-width="1.7" stroke-linejoin="round" stroke-linecap="round"/>
<g transform="translate(11.25 622.6) scale(0.756)" fill="#131722"><path d="M14 22H7V11H0V4h14v18z"/><path d="M28 22h-8l7.5-18h8L28 22z"/><circle cx="20" cy="8" r="4"/></g>
<text x="9.90" y="18.30" font-size="11.1" font-weight="normal" fill="#333" stroke="#333" stroke-width="0.25" textLength="68.51" lengthAdjust="spacingAndGlyphs">angiepanoyan</text><text x="81.40" y="18.30" font-size="11.1" font-weight="normal" fill="#333" stroke="#333" stroke-width="0.25" textLength="37.92" lengthAdjust="spacingAndGlyphs">created</text><text x="123.20" y="18.30" font-size="11.1" font-weight="normal" fill="#333" stroke="#333" stroke-width="0.25" textLength="22.54" lengthAdjust="spacingAndGlyphs">with</text><text x="149.00" y="18.30" font-size="11.1" font-weight="normal" fill="#333" stroke="#333" stroke-width="0.25" textLength="86.05" lengthAdjust="spacingAndGlyphs">TradingView.com,</text><text x="240.20" y="18.30" font-size="11.1" font-weight="normal" fill="#333" stroke="#333" stroke-width="0.25" textLength="16.87" lengthAdjust="spacingAndGlyphs">Dec</text><text x="261.70" y="18.30" font-size="11.1" font-weight="normal" fill="#333" stroke="#333" stroke-width="0.25" textLength="15.73" lengthAdjust="spacingAndGlyphs">30,</text><text x="281.40" y="18.30" font-size="11.1" font-weight="normal" fill="#333" stroke="#333" stroke-width="0.25" textLength="21.73" lengthAdjust="spacingAndGlyphs">2025</text><text x="307.70" y="18.30" font-size="11.1" font-weight="normal" fill="#333" stroke="#333" stroke-width="0.25" textLength="26.48" lengthAdjust="spacingAndGlyphs">23:33</text><text x="338.20" y="18.30" font-size="11.1" font-weight="normal" fill="#333" stroke="#333" stroke-width="0.25" textLength="19.24" lengthAdjust="spacingAndGlyphs">UTC</text><text x="17.20" y="43.60" font-size="11.1" font-weight="normal" fill="#131722" stroke="#131722" stroke-width="0.25" textLength="50.05" lengthAdjust="spacingAndGlyphs">Australian</text><text x="70.90" y="43.60" font-size="11.1" font-weight="normal" fill="#131722" stroke="#131722" stroke-width="0.25" textLength="27.98" lengthAdjust="spacingAndGlyphs">Dollar</text><text x="104.20" y="43.60" font-size="11.1" font-weight="normal" fill="#131722" stroke="#131722" stroke-width="0.25" textLength="3.40" lengthAdjust="spacingAndGlyphs">/</text><text x="113.20" y="43.60" font-size="11.1" font-weight="normal" fill="#131722" stroke="#131722" stroke-width="0.25" textLength="19.52" lengthAdjust="spacingAndGlyphs">U.S.</text><text x="137.30" y="43.60" font-size="11.1" font-weight="normal" fill="#131722" stroke="#131722" stroke-width="0.25" textLength="28.58" lengthAdjust="spacingAndGlyphs">Dollar</text><text x="169.75" y="43.60" font-size="11.1" font-weight="normal" fill="#131722" stroke="#131722" stroke-width="0.25" textLength="3.15" lengthAdjust="spacingAndGlyphs">·</text><text x="176.70" y="43.60" font-size="11.1" font-weight="normal" fill="#131722" stroke="#131722" stroke-width="0.25" textLength="11.32" lengthAdjust="spacingAndGlyphs">4h</text><text x="192.05" y="43.60" font-size="11.1" font-weight="normal" fill="#131722" stroke="#131722" stroke-width="0.25" textLength="3.15" lengthAdjust="spacingAndGlyphs">·</text><text x="200.10" y="43.60" font-size="11.1" font-weight="normal" fill="#131722" stroke="#131722" stroke-width="0.25" textLength="33.24" lengthAdjust="spacingAndGlyphs">OANDA</text><text x="240.70" y="43.60" font-size="11.1" font-weight="normal" fill="#131722" stroke="#131722" stroke-width="0.25" textLength="7.99" lengthAdjust="spacingAndGlyphs">O</text><text x="294.70" y="43.60" font-size="11.1" font-weight="normal" fill="#131722" stroke="#131722" stroke-width="0.25" textLength="6.51" lengthAdjust="spacingAndGlyphs">H</text><text x="348.00" y="43.60" font-size="11.1" font-weight="normal" fill="#131722" stroke="#131722" stroke-width="0.25" textLength="4.32" lengthAdjust="spacingAndGlyphs">L</text><text x="398.60" y="43.60" font-size="11.1" font-weight="normal" fill="#131722" stroke="#131722" stroke-width="0.25" textLength="6.21" lengthAdjust="spacingAndGlyphs">C</text><text x="249.00" y="43.60" font-size="11.1" font-weight="normal" fill="#089981" stroke="#089981" stroke-width="0.25" textLength="38.20" lengthAdjust="spacingAndGlyphs">0.66946</text><text x="301.70" y="43.60" font-size="11.1" font-weight="normal" fill="#089981" stroke="#089981" stroke-width="0.25" textLength="37.90" lengthAdjust="spacingAndGlyphs">0.66991</text><text x="352.70" y="43.60" font-size="11.1" font-weight="normal" fill="#089981" stroke="#089981" stroke-width="0.25" textLength="38.81" lengthAdjust="spacingAndGlyphs">0.66942</text><text x="405.20" y="43.60" font-size="11.1" font-weight="normal" fill="#089981" stroke="#089981" stroke-width="0.25" textLength="38.81" lengthAdjust="spacingAndGlyphs">0.66956</text><text x="451.25" y="43.60" font-size="11.1" font-weight="normal" fill="#089981" stroke="#089981" stroke-width="0.25" textLength="43.87" lengthAdjust="spacingAndGlyphs">−0.00008</text><text x="500.20" y="43.60" font-size="11.1" font-weight="normal" fill="#089981" stroke="#089981" stroke-width="0.25" textLength="41.35" lengthAdjust="spacingAndGlyphs">(−0.01%)</text><text x="17.40" y="58.60" font-size="11.1" font-weight="normal" fill="#131722" stroke="#131722" stroke-width="0.25" textLength="15.11" lengthAdjust="spacingAndGlyphs">Vol</text><text x="35.90" y="58.60" font-size="11.1" font-weight="normal" fill="#131722" stroke="#131722" stroke-width="0.25" textLength="2.59" lengthAdjust="spacingAndGlyphs">·</text><text x="43.30" y="58.60" font-size="11.1" font-weight="normal" fill="#131722" stroke="#131722" stroke-width="0.25" textLength="23.72" lengthAdjust="spacingAndGlyphs">Ticks</text><text x="75.00" y="58.60" font-size="11.1" font-weight="normal" fill="#22ab94" stroke="#22ab94" stroke-width="0.25" textLength="20.12" lengthAdjust="spacingAndGlyphs">1.05</text><text x="97.50" y="58.60" font-size="11.1" font-weight="normal" fill="#22ab94" stroke="#22ab94" stroke-width="0.25" textLength="6.67" lengthAdjust="spacingAndGlyphs">K</text><text x="962.50" y="131.80" font-size="11" font-weight="normal" fill="#fff" stroke="#fff" stroke-width="0.05" textLength="38.77" lengthAdjust="spacingAndGlyphs">0.66956</text><text x="962.50" y="145.80" font-size="11" font-weight="normal" fill="#fff" stroke="#fff" stroke-width="0.05" textLength="43.33" lengthAdjust="spacingAndGlyphs">02:26:59</text><text x="962.24" y="575.80" font-size="11" font-weight="normal" fill="#fff" stroke="#fff" stroke-width="0.05" textLength="22.71" lengthAdjust="spacingAndGlyphs">1.05</text><text x="985.27" y="575.80" font-size="11" font-weight="normal" fill="#fff" stroke="#fff" stroke-width="0.05" textLength="7.59" lengthAdjust="spacingAndGlyphs">K</text><text x="46.40" y="639.20" font-size="18" font-weight="normal" fill="#131722" stroke="#131722" stroke-width="0.65" textLength="109.86" lengthAdjust="spacingAndGlyphs">TradingView</text>
</svg></div></body></html>
